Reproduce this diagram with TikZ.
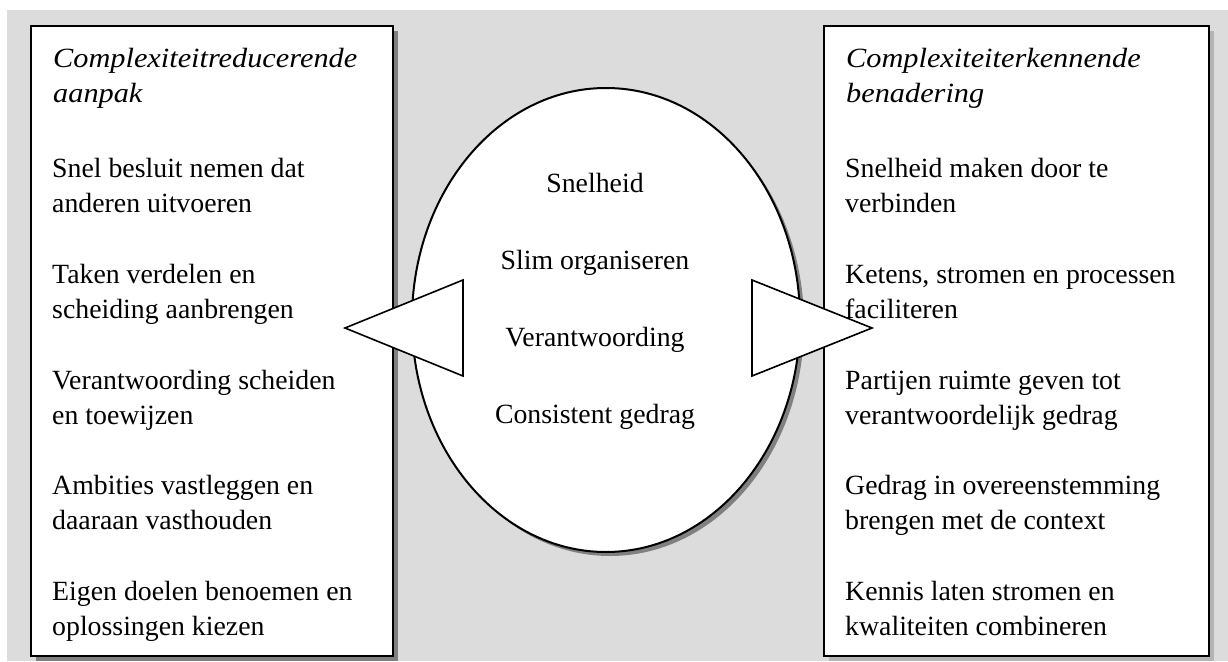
\documentclass[tikz,border=0pt]{standalone}
\usepackage{fontspec}
\setmainfont{Liberation Serif}
\newfontfamily\titlefont[FakeStretch=1.09]{Liberation Serif}
\usetikzlibrary{shapes.geometric}
\definecolor{bg}{HTML}{DCDCDC}
\definecolor{shad}{HTML}{808080}
\definecolor{shadr}{HTML}{B4B4B4}
\begin{document}
\begin{tikzpicture}[x=1pt,y=-1pt,
  box/.style={draw=black, line width=2pt, fill=white, inner sep=0pt, anchor=north west},
  txt/.style={anchor=base west, inner sep=0pt, font=\fontsize{27.8}{35}\selectfont},
  ttl/.style={anchor=base west, inner sep=0pt, font=\fontsize{27.8}{35}\selectfont\titlefont\itshape},
  ctxt/.style={anchor=base, inner sep=0pt, font=\fontsize{27.8}{35}\selectfont},
  tri/.style={draw=black, line width=1.6pt, fill=white, line join=miter}]
\useasboundingbox (0,0) rectangle (1228,661);
\fill[bg] (7,10) rectangle (1228,661);
% left box
\fill[shad] (36,31) rectangle (398,661);
\node[box, minimum width=362pt, minimum height=630pt] (lbox) at (30,25) {};
% right box
\fill[shadr] (829,31) rectangle (1214,661);
\node[box, minimum width=385pt, minimum height=630pt] (rbox) at (823,25) {};
% ellipse
\fill[shad] (610,324) ellipse [x radius=194pt, y radius=232pt];
\node[draw=black, line width=2pt, fill=white, ellipse, inner sep=0pt,
      minimum width=388pt, minimum height=464pt] (ell) at (606,320) {};
% triangles
\draw[tri] (463,280) coordinate (lt1) -- (345,328) coordinate (ltip) -- (463,376) coordinate (lt2) -- cycle;
\draw[tri] (752,280) coordinate (rt1) -- (872,328) coordinate (rtip) -- (752,376) coordinate (rt2) -- cycle;
% left texts
\node[ttl] (lt0) at (53,67) {Complexiteitreducerende};
\node[ttl] (lt00) at (53,102) {aanpak};
\foreach \yy/\tt [count=\i] in {
  177/Snel besluit nemen dat, 212/anderen uitvoeren,
  283/Taken verdelen en, 318/scheiding aanbrengen,
  389/Verantwoording scheiden, 424/en toewijzen,
  494/Ambities vastleggen en, 529/daaraan vasthouden,
  600/Eigen doelen benoemen en, 635/oplossingen kiezen}
  {\node[txt] (l\i) at (52,\yy) {\tt};}
% right texts
\node[ttl] (rt0) at (846,67) {Complexiteiterkennende};
\node[ttl] (rt00) at (846,102) {benadering};
\foreach \yy/\tt [count=\i] in {
  177/Snelheid maken door te, 212/verbinden,
  283/{Ketens, stromen en processen}, 318/faciliteren,
  389/Partijen ruimte geven tot, 424/verantwoordelijk gedrag,
  494/Gedrag in overeenstemming, 529/brengen met de context,
  600/Kennis laten stromen en, 635/kwaliteiten combineren}
  {\node[txt] (r\i) at (845,\yy) {\tt};}
% center texts
\node[ctxt] (c1) at (595,192) {Snelheid};
\node[ctxt] (c2) at (595,269) {Slim organiseren};
\node[ctxt] (c3) at (595,346) {Verantwoording};
\node[ctxt] (c4) at (595,423) {Consistent gedrag};
\end{tikzpicture}
\end{document}
